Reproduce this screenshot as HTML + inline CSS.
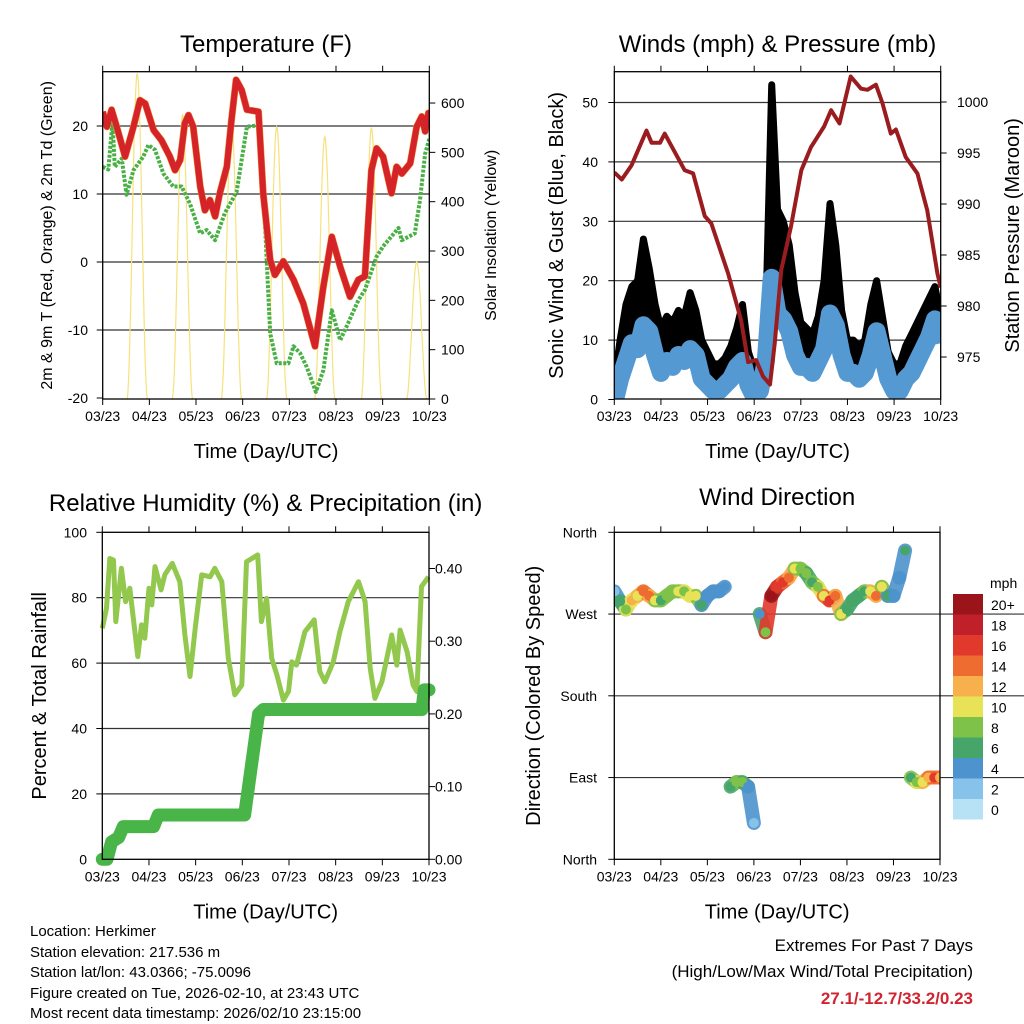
<!DOCTYPE html>
<html><head><meta charset="utf-8"><style>
body{margin:0;background:#fff}
svg{display:block;font-family:"Liberation Sans",sans-serif}
</style></head><body>
<svg id="s" width="1024" height="1024" viewBox="0 0 1024 1024" xmlns="http://www.w3.org/2000/svg">
<rect width="1024" height="1024" fill="#fff"/>
<g id="g1"></g>
<g id="g2"></g>
<g id="g3"></g>
<g id="g4"></g>
<g font-size="15" fill="#000">
<text x="30" y="936">Location: Herkimer</text>
<text x="30" y="957">Station elevation: 217.536 m</text>
<text x="30" y="977">Station lat/lon: 43.0366; -75.0096</text>
<text x="30" y="998">Figure created on Tue, 2026-02-10, at 23:43 UTC</text>
<text x="30" y="1018">Most recent data timestamp: 2026/02/10 23:15:00</text>
</g>
<g text-anchor="end">
<text x="973" y="951" font-size="17">Extremes For Past 7 Days</text>
<text x="973" y="977" font-size="17">(High/Low/Max Wind/Total Precipitation)</text>
<text x="973" y="1004" font-size="17" font-weight="bold" fill="#d02530">27.1/-12.7/33.2/0.23</text>
</g>
</svg>
<script>
const xTickLabels=["03/23","04/23","05/23","06/23","07/23","08/23","09/23","10/23"];
const tDays=[0,.09,.19,.30,.48,.66,.8,.91,1.09,1.26,1.44,1.55,1.66,1.76,1.84,1.94,2.09,2.19,2.3,2.41,2.51,2.66,2.76,2.86,2.98,3.09,3.34,3.44,3.59,3.69,3.87,4.09,4.3,4.55,4.73,4.91,5.09,5.3,5.48,5.62,5.76,5.87,6.01,6.19,6.3,6.41,6.59,6.73,6.84,6.91,6.98,7.0];
const tVals=[22.1,19.9,22.4,19.9,15.5,19.9,23.8,23.3,19.4,17.9,15.5,13.5,15,20.4,21.6,19.9,11.1,7.6,9.1,6.7,10.1,14,20.9,26.8,25.3,22.4,22.1,10.1,0.3,-1.9,0.1,-2.6,-6.1,-12.4,-3.6,3.7,-0.7,-5.1,-2.6,-2.1,13.5,16.7,15.5,10.1,14,13,14.5,19.9,21.4,19.2,21.9,21.9];
const tdDays=[0,.12,.21,.26,.41,.51,.66,.87,.98,1.12,1.3,1.51,1.69,1.87,2.09,2.23,2.41,2.62,2.87,3.09,3.34,3.48,3.59,3.73,3.98,4.09,4.23,4.37,4.57,4.73,4.91,5.09,5.26,5.48,5.62,5.87,6.01,6.34,6.41,6.69,6.8,6.91,7.0];
const tdVals=[14,13.6,20.6,14,15.2,9.9,13.5,15.5,17.2,16.5,13,11.1,11.1,8.6,4.2,4.7,3.2,7.2,10.3,19.9,20.1,5.2,-10.5,-14.9,-14.9,-12.4,-13.4,-15.4,-19.1,-15.9,-7.1,-11.5,-9,-5.6,-4.1,0.8,2.3,5,3.2,4.2,9.1,15.9,18.1];
const solarDays=[0.74,1.71,2.76,3.73,4.76,5.76,6.73];
const solarPeaks=[660,576,570,552,532,549,278];
const pDays=[0,.16,.37,.69,.80,.98,1.08,1.51,1.69,1.94,2.08,2.44,2.72,2.87,3.04,3.19,3.34,3.44,3.58,3.79,4.01,4.22,4.50,4.65,4.83,5.07,5.29,5.43,5.61,5.75,5.93,6.04,6.25,6.50,6.71,6.93,7.0];
const pVals=[993.1,992.4,993.8,997.2,996,996,996.9,993.3,993,988.8,988.1,983.2,978.6,974.5,974.7,973.1,972.3,976.3,983.5,987.8,993.3,995.6,997.6,999.2,997.9,1002.5,1001.3,1001.2,1001.7,999.9,996.9,997.3,994.6,993,989.4,983.2,981.8];
const wind=[1,5,8,11,10,14,13,9,6,8,7,9,8,10,9,5,4,3,3,4,5,7,8,4,2,3,8,22,16,15,13,9,7,7,6,8,10,16,14,9,6,6,5,6,9,13,9,5,3,3,5,6,8,10,12,15,11];
const gust=[3,10,16,19,20,27,22,16,12,14,13,15,14,18,15,10,8,6,6,7,9,12,16,8,5,6,14,53,32,30,26,18,13,12,11,14,20,33,26,15,10,10,9,10,16,20,14,8,6,6,9,11,13,15,17,19,14];
const windDir=[295,284,275,285,290,295,290,285,285,290,295,295,295,290,290,280,290,295,295,300,80,85,85,80,40,270,250,290,300,305,310,320,320,315,305,300,290,285,290,270,275,285,290,295,295,290,300,290,290,310,340,90,85,85,90,90,90];
const rhDays=[0,.09,.16,.24,.29,.41,.5,.59,.76,.84,.91,1.0,1.06,1.13,1.26,1.34,1.5,1.66,1.77,1.88,1.99,2.13,2.31,2.41,2.56,2.7,2.84,2.99,3.09,3.33,3.41,3.52,3.63,3.74,3.88,3.99,4.06,4.16,4.34,4.54,4.66,4.77,4.95,5.09,5.27,5.49,5.63,5.74,5.84,5.99,6.2,6.31,6.38,6.53,6.66,6.74,6.84,6.99];
const rhVals=[70.6,76.8,92,91.5,72.7,89,78.8,82.9,62,71.7,67.6,82.9,77.8,89.5,82.4,87,90.5,84.9,68.6,55.9,70.6,87,86.4,89,84.9,61.5,50.3,53.3,91,93.1,72.7,79.8,61.5,56.4,48.7,51.3,60.4,59.4,69.6,73.2,57.4,54.3,60.4,69.6,78.8,84.9,78.8,58.4,49.2,54.3,68.6,59.4,70.1,63.5,53.3,51.3,83.4,86.4];
const prDays=[0,0.1,0.2,0.35,0.45,1.1,1.2,3.05,3.35,3.45,6.85,6.9,7.0];
const prVals=[0,0,0.024,0.03,0.045,0.045,0.061,0.061,0.20,0.206,0.206,0.233,0.233];
const speedBins=["0","2","4","6","8","10","12","14","16","18","20+"];
const speedColors=["#b7e2f6","#86c2ea","#4d93cd","#46a66a","#7fc24a","#e8e356","#f7b04c","#ef6c30","#e1392c","#c0202a","#9a1419"];

const NS="http://www.w3.org/2000/svg";
function el(tag,attrs,parent,txt){const e=document.createElementNS(NS,tag);for(const k in attrs)e.setAttribute(k,attrs[k]);if(txt!==undefined)e.textContent=txt;parent.appendChild(e);return e;}
function pts(xs,ys,fx,fy){return xs.map((d,i)=>fx(d).toFixed(1)+","+fy(ys[i]).toFixed(1)).join(" ");}

function frame(g,P,title,xt,ylt,yrt,ylFS,yrFS,titleY){
  const fx=d=>P.x0+d*(P.x1-P.x0)/7;
  let t=el("text",{x:(P.x0+P.x1)/2,y:titleY,"text-anchor":"middle","font-size":24},g,title);
  
  
  t=el("text",{x:(P.x0+P.x1)/2,y:P.y1+59,"text-anchor":"middle","font-size":20},g,xt);
  
  
  t=el("text",{transform:`translate(${P.ylx},${(P.y0+P.y1)/2}) rotate(-90)`,"text-anchor":"middle","font-size":ylFS},g,ylt);
  
  
  if(yrt){t=el("text",{transform:`translate(${P.yrx},${(P.y0+P.y1)/2}) rotate(-90)`,"text-anchor":"middle","font-size":yrFS},g,yrt);
  
  }
  xTickLabels.forEach((l,i)=>{const x=fx(i);
    el("line",{x1:x,x2:x,y1:P.y1,y2:P.y1+6,stroke:"#000"},g);
    el("line",{x1:x,x2:x,y1:P.y0,y2:P.y0-6,stroke:"#000"},g);
    const tl=el("text",{x:x,y:P.y1+22,"text-anchor":"middle","font-size":14},g,l);
    
    
  });
  return fx;
}
function border(g,P){const r=el("rect",{x:P.x0,y:P.y0,width:P.x1-P.x0,height:P.y1-P.y0,fill:"none",stroke:"#000","stroke-width":1.3},g);
  
  }
function yTicks(g,P,vals,labels,fy,side,grid,lx){
  vals.forEach((v,i)=>{const y=fy(v);
    if(grid&&y>P.y0+2&&y<P.y1-2)el("line",{x1:P.x0,x2:P.x1,y1:y,y2:y,stroke:"#333","stroke-width":1.2},g);
    const x=side==="l"?P.x0:P.x1;
    el("line",{x1:x,x2:side==="l"?x-6:x+6,y1:y,y2:y,stroke:"#000"},g);
    const t=el("text",{x:lx,y:y+5,"text-anchor":side==="l"?"end":"start","font-size":14},g,labels[i]);
    
    
  });
}

// ---------- Panel 1 ----------
(function(){
const g=document.getElementById("g1");
const P={x0:102.7,x1:429.3,y0:71.7,y1:399,ylx:52,yrx:496};
const fx=frame(g,P,"Temperature (F)","Time (Day/UTC)","2m & 9m T (Red, Orange) & 2m Td (Green)","Solar Insolation (Yellow)",16,16,52);
const fy=t=>262-6.8*t, fs=v=>399-0.4933*v;
yTicks(g,P,[20,10,0,-10,-20],["20","10","0","-10","-20"],fy,"l",true,88);
yTicks(g,P,[0,100,200,300,400,500,600],["0","100","200","300","400","500","600"],fs,"r",false,441);
const cp=el("clipPath",{id:"c1"},g);el("rect",{x:P.x0,y:P.y0,width:P.x1-P.x0,height:P.y1-P.y0},cp);
const d=el("g",{"clip-path":"url(#c1)"},g);
solarDays.forEach((c,i)=>{let s="";for(let k=0;k<=40;k++){const dd=c-0.22+k*0.011;const f=Math.cos((dd-c)/0.22*Math.PI/2);s+=fx(dd).toFixed(1)+","+fs(solarPeaks[i]*f*f).toFixed(1)+" ";}
  const p=el("polyline",{points:s,fill:"none",stroke:"#f6e27a","stroke-width":1.2},d);
  
  });
let p=el("polyline",{points:pts(tdDays,tdVals,fx,fy),fill:"none",stroke:"#48b044","stroke-width":4,"stroke-dasharray":"3 1.5","stroke-linejoin":"round"},d);


p=el("polyline",{points:pts(tDays,tVals,fx,fy),fill:"none",stroke:"#f28a30","stroke-width":7,"stroke-linejoin":"round"},d);


p=el("polyline",{points:pts(tDays,tVals,fx,fy),fill:"none",stroke:"#d4242a","stroke-width":6,"stroke-linejoin":"round"},d);


border(g,P);
})();

// ---------- Panel 2 ----------
(function(){
const g=document.getElementById("g2");
const P={x0:614.3,x1:940.7,y0:71.7,y1:399,ylx:563,yrx:1019};
const fx=frame(g,P,"Winds (mph) & Pressure (mb)","Time (Day/UTC)","Sonic Wind & Gust (Blue, Black)","Station Pressure (Maroon)",20,20,52);
const fy=m=>399.5-5.94*m, fp=p=>102+(1000-p)*10.2;
yTicks(g,P,[0,10,20,30,40,50],["0","10","20","30","40","50"],fy,"l",true,598);
yTicks(g,P,[975,980,985,990,995,1000],["975","980","985","990","995","1000"],fp,"r",false,957);
const cp=el("clipPath",{id:"c2"},g);el("rect",{x:P.x0,y:P.y0,width:P.x1-P.x0,height:P.y1-P.y0},cp);
const d=el("g",{"clip-path":"url(#c2)"},g);
const days=wind.map((_,i)=>i*0.125);
let up=days.map((dd,i)=>fx(dd).toFixed(1)+","+fy(gust[i]).toFixed(1));
let lo=days.map((dd,i)=>fx(dd).toFixed(1)+","+fy(wind[i]).toFixed(1)).reverse();
let p=el("polygon",{points:up.concat(lo).join(" "),fill:"#000",stroke:"#000","stroke-width":7,"stroke-linejoin":"round"},d);


p=el("polyline",{points:pts(days,wind,fx,fy),fill:"none",stroke:"#5599d2","stroke-width":18,"stroke-linejoin":"round",transform:"translate(0,9)"},d);


p=el("polyline",{points:pts(pDays,pVals,fx,fp),fill:"none",stroke:"#9b1c1e","stroke-width":4,"stroke-linejoin":"round"},d);


border(g,P);
})();

// ---------- Panel 3 ----------
(function(){
const g=document.getElementById("g3");
const P={x0:102.3,x1:429,y0:532.3,y1:859.3,ylx:46,yrx:0};
const fx=frame(g,P,"Relative Humidity (%) & Precipitation (in)","Time (Day/UTC)","Percent & Total Rainfall",null,20,20,511);
const fy=r=>859.3-3.27*r, fp=v=>859.3-727*v;
yTicks(g,P,[0,20,40,60,80,100],["0","20","40","60","80","100"],fy,"l",true,87);
yTicks(g,P,[0,0.1,0.2,0.3,0.4],["0.00","0.10","0.20","0.30","0.40"],fp,"r",false,435);
let p=el("polyline",{points:pts(rhDays,rhVals,fx,fy),fill:"none",stroke:"#92c84e","stroke-width":5,"stroke-linejoin":"round"},g);


p=el("polyline",{points:pts(prDays,prVals,fx,fp),fill:"none",stroke:"#49b548","stroke-width":13,"stroke-linejoin":"round","stroke-linecap":"round"},g);


border(g,P);
})();

// ---------- Panel 4 ----------
(function(){
const g=document.getElementById("g4");
const P={x0:614.3,x1:940,y0:532.3,y1:859.3,ylx:540,yrx:0};
const fx=frame(g,P,"Wind Direction","Time (Day/UTC)","Direction (Colored By Speed)",null,20,20,505);
const fy=v=>859.3-v*327/360;
yTicks(g,P,[0,90,180,270,360],["North","East","South","West","North"],fy,"l",true,597);
[90,180,270].forEach(v=>el("line",{x1:P.x1,x2:1024,y1:fy(v),y2:fy(v),stroke:"#333","stroke-width":1.2},g));
const cp=el("clipPath",{id:"c4"},g);el("rect",{x:P.x0,y:P.y0,width:P.x1-P.x0,height:P.y1-P.y0},cp);
const d=el("g",{"clip-path":"url(#c4)"},g);
const col=s=>speedColors[Math.min(10,Math.max(0,Math.round(s/2)))];
for(let i=0;i<windDir.length-1;i++){
  if(Math.abs(windDir[i+1]-windDir[i])>150)continue;
  const sp=(wind[i]+wind[i+1])/2;
  const l=el("line",{x1:fx(i*0.125),y1:fy(windDir[i]),x2:fx((i+1)*0.125),y2:fy(windDir[i+1]),stroke:col(sp),"stroke-width":14,"stroke-linecap":"round","opacity":0.9},d);
  
  
}
windDir.forEach((v,i)=>{const c=el("circle",{cx:fx(i*0.125),cy:fy(v),r:5,fill:col(wind[i])},d);
  
  });
border(g,P);
const cb=el("g",{},g);


let t=el("text",{x:990,y:588,"font-size":14},cb,"mph");


for(let k=0;k<11;k++){const idx=10-k;const y=594+k*20.5;
  const r=el("rect",{x:953,y:y,width:30,height:20.5,fill:speedColors[idx]},cb);
  
  
  const tt=el("text",{x:991,y:y+16,"font-size":14},cb,speedBins[idx]);
  
  
}
})();
</script>
</body></html>
